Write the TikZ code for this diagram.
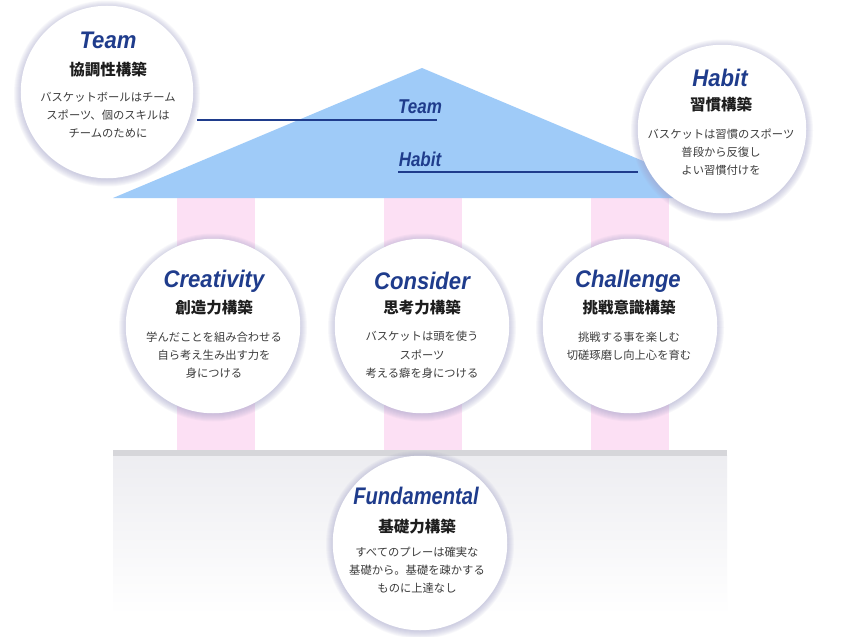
\documentclass[tikz,border=0pt]{standalone}
\usepackage{fontspec}
\setmainfont{Liberation Sans}
\newfontfamily\jpfont{Noto Sans CJK JP}
\newfontfamily\ttlfont{Liberation Sans}
\usetikzlibrary{calc}
\definecolor{roofc}{HTML}{9FCBF8}
\definecolor{pinkc}{HTML}{FCE0F4}
\definecolor{navy}{HTML}{1F3C8C}
\definecolor{subc}{HTML}{1E1E1E}
\definecolor{bodyc}{HTML}{3C3C3C}
\definecolor{barc}{HTML}{D6D6DA}
\definecolor{basec}{HTML}{EDEDF1}
\definecolor{glowc}{HTML}{A0A0C8}
\definecolor{diskc}{HTML}{E0E0E7}
\pgfdeclareradialshading{disc}{\pgfpoint{0bp}{0bp}}{color(0bp)=(white); color(26bp)=(white); color(48bp)=(diskc); color(50bp)=(diskc)}
\tikzset{
  bubble/.style={circle, minimum size=170pt, inner sep=0pt, shade, shading=disc, draw=white, line width=2.5pt},
  bubtitle/.style={font=\ttlfont\bfseries\itshape\fontsize{24}{24}\selectfont, text=navy, inner sep=0pt},
  rooflbl/.style={font=\ttlfont\bfseries\itshape\fontsize{20}{20}\selectfont, text=navy, inner sep=0pt},
  bubsub/.style={font=\jpfont\bfseries\fontsize{15.5}{15.5}\selectfont, text=subc, inner sep=0pt},
  bubbody/.style={font=\jpfont\fontsize{11.3}{18.3}\selectfont, text=bodyc, align=center, inner sep=0pt},
  pillarc/.style={fill=pinkc, draw=none},
  roofline/.style={draw=navy, line width=1.1pt},
}
\newcommand\glowat[3]{%
  \foreach \i in {1,...,8}{\fill[glowc, opacity=0.08] (#1,#2+1.5) circle[radius=#3+\i];}}
\begin{document}
\begin{tikzpicture}[x=1pt,y=-1pt]
\useasboundingbox (0,0) rectangle (841,637);
\fill[white] (0,0) rectangle (841,637);
% base
\shade[top color=basec, bottom color=white] (113,455) rectangle (727,615);
\fill[barc] (113,450) rectangle (727,456);
% pillars
\fill[pillarc] (177,198) rectangle (255,450);
\fill[pillarc] (384,198) rectangle (462,450);
\fill[pillarc] (591,198) rectangle (669,450);
% roof
\fill[roofc] (113,198) -- (422,68) -- (731,198) -- cycle;
\coordinate (tlA) at (197,120);
\coordinate (tlB) at (437,120);
\coordinate (hlA) at (398,172);
\coordinate (hlB) at (638,172);
\draw[roofline] (tlA) -- (tlB);
\draw[roofline] (hlA) -- (hlB);
\node[rooflbl] (roofteam) at (420,107) {\scalebox{0.85}[1]{Team}};
\node[rooflbl] (roofhabit) at (420,159) {\scalebox{0.85}[1]{Habit}};
% Team
\glowat{107}{92}{85}
\node[bubble] (team) at (107,92) {};
\node[bubtitle] (teamT) at (108,40) {\scalebox{0.92}[1]{Team}};
\node[bubsub] (teamS) at (108,70) {協調性構築};
\node[bubbody] (teamB) at (108,115) {バスケットボールはチーム\\スポーツ、個のスキルは\\チームのために};
% Habit
\glowat{722}{129}{83}
\node[bubble, minimum size=166pt] (habit) at (722,129) {};
\node[bubtitle] (habitT) at (720,78) {\scalebox{0.92}[1]{Habit}};
\node[bubsub] (habitS) at (721,105) {習慣構築};
\node[bubbody] (habitB) at (721,152) {バスケットは習慣のスポーツ\\普段から反復し\\よい習慣付けを};
% Creativity
\glowat{213}{326}{86}
\node[bubble, minimum size=172pt] (crea) at (213,326) {};
\node[bubtitle] (creaT) at (214,281) {\scalebox{0.92}[1]{Creativity}};
\node[bubsub] (creaS) at (214,308) {創造力構築};
\node[bubbody] (creaB) at (214,355) {学んだことを組み合わせる\\自ら考え生み出す力を\\身につける};
% Consider
\glowat{422}{326}{86}
\node[bubble, minimum size=172pt] (cons) at (422,326) {};
\node[bubtitle] (consT) at (422,281) {\scalebox{0.92}[1]{Consider}};
\node[bubsub] (consS) at (422,308) {思考力構築};
\node[bubbody] (consB) at (422,355) {バスケットは頭を使う\\スポーツ\\考える癖を身につける};
% Challenge
\glowat{630}{326}{86}
\node[bubble, minimum size=172pt] (chal) at (630,326) {};
\node[bubtitle] (chalT) at (628,281) {\scalebox{0.92}[1]{Challenge}};
\node[bubsub] (chalS) at (629,308) {挑戦意識構築};
\node[bubbody] (chalB) at (629,346) {挑戦する事を楽しむ\\切磋琢磨し向上心を育む};
% Fundamental
\glowat{420}{543}{86}
\node[bubble, minimum size=172pt] (fund) at (420,543) {};
\node[bubtitle] (fundT) at (416,496) {\scalebox{0.84}[1]{Fundamental}};
\node[bubsub] (fundS) at (417,527) {基礎力構築};
\node[bubbody] (fundB) at (417,570) {すべてのプレーは確実な\\基礎から。基礎を疎かする\\ものに上達なし};
\end{tikzpicture}
\end{document}
